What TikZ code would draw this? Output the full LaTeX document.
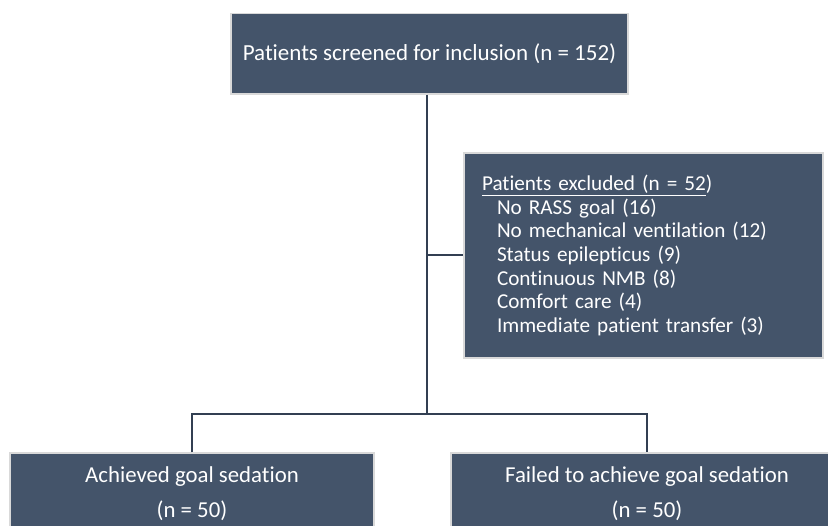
\documentclass[tikz,border=0pt]{standalone}
\usepackage{fontspec}
\setmainfont[Ligatures={NoCommon}]{Carlito}
\usepackage{tikz}
\usetikzlibrary{positioning}
\definecolor{SlateFill}{HTML}{44546A}
\definecolor{EdgeGrey}{HTML}{D9D9D9}
\definecolor{LineNavy}{HTML}{323F52}

\begin{document}
\begin{tikzpicture}[
    x=1pt, y=-1pt,
    box/.style={rectangle, draw=EdgeGrey, line width=1.4pt, fill=SlateFill, text=white, align=center, inner sep=0pt},
    link/.style={draw=LineNavy, line width=2pt}
]
    \clip (0,0) rectangle (828,526);
    \fill[white] (0,0) rectangle (828,526);

    \node (screen) [box, minimum width=397pt, minimum height=80.5pt, font=\fontsize{23}{27.6}\selectfont]
        at (429.5,53.75) {\raisebox{-4pt}{Patients screened for inclusion (n = 152)}};
    \node (excl) [box, minimum width=359pt, minimum height=205pt, text width=323pt, inner xsep=18pt, align=left,
        font=\fontsize{21.2}{23.6}\selectfont] at (643.5,255.5)
        {\underline{Patients excluded (n = 52})\\
         \hspace*{15pt}No RASS goal (16)\\
         \hspace*{15pt}No mechanical ventilation (12)\\
         \hspace*{15pt}Status epilepticus (9)\\
         \hspace*{15pt}Continuous NMB (8)\\
         \hspace*{15pt}Comfort care (4)\\
         \hspace*{15pt}Immediate patient transfer (3)};
    \node (done) [box, minimum width=364pt, minimum height=81pt, font=\fontsize{22.8}{35}\selectfont]
        at (192,493.5) {Achieved goal sedation\\(n = 50)};
    \node (fail) [box, minimum width=392pt, minimum height=81pt, font=\fontsize{22.8}{35}\selectfont]
        at (647,493.5) {Failed to achieve goal sedation\\(n = 50)};

    % connectors
    \coordinate (fork) at (427,414);
    \draw[link] (screen.south -| fork) -- (fork);
    \draw[link] (fork |- excl.west) -- (excl.west);
    \draw[link] (done.north) |- (fork) -| (fail.north);
\end{tikzpicture}
\end{document}
